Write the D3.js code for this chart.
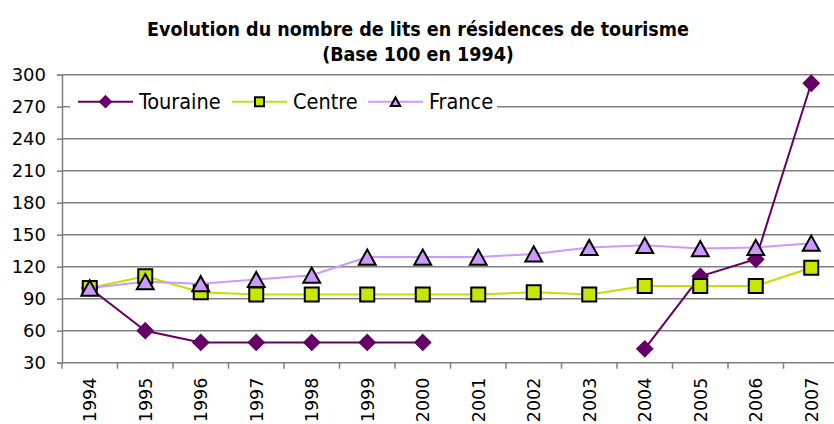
<!DOCTYPE html>
<html>
<head>
<meta charset="utf-8">
<script src="https://cdn.jsdelivr.net/npm/d3@7"></script>
<style>
  body { margin: 0; background: #fff; }
  svg text { font-family: "DejaVu Sans Condensed", "DejaVu Sans", sans-serif; fill: #000; }
</style>
</head>
<body>
<div id="chart"></div>
<script>
// data
var years = ["1994", "1995", "1996", "1997", "1998", "1999", "2000",
             "2001", "2002", "2003", "2004", "2005", "2006", "2007"];
var touraine = [100, 60, 49, 49, 49, 49, 49, null, null, null, 43, 111, 127, 292];
var centre   = [100, 111, 96, 94, 94, 94, 94, 94, 96, 94, 102, 102, 102, 119];
var france   = [100, 106, 104, 108, 112, 129, 129, 129, 132, 138, 140, 137, 138, 142];
var yTicks = [30, 60, 90, 120, 150, 180, 210, 240, 270, 300];
var seriesNames = ["Touraine", "Centre", "France"];

var width = 834, height = 424;
var margin = {top: 74.7, left: 62, bottom: 61.3};

var svg = d3.select("#chart").append("svg")
    .attr("width", width)
    .attr("height", height);

var x = d3.scaleBand().domain(years).range([margin.left, 839]).padding(0);
var y = d3.scaleLinear().domain([30, 300]).range([height - margin.bottom, margin.top]);

var series = [
    {name: seriesNames[0], values: touraine, line: "#660066", fill: "#660066", stroke: "#660066", shape: "diamond"},
    {name: seriesNames[1], values: centre, line: "#c4e000", fill: "#c8e600", stroke: "#000", shape: "square"},
    {name: seriesNames[2], values: france, line: "#cc99ff", fill: "#cc99ff", stroke: "#000", shape: "triangle"}
];

function markerPath(shape, s) {
    var h = s / 2;
    if (shape === "diamond") {
        return "M0," + (-h) + "L" + h + ",0L0," + h + "L" + (-h) + ",0Z";
    }
    if (shape === "square") {
        return "M" + (-h) + "," + (-h) + "h" + s + "v" + s + "h" + (-s) + "Z";
    }
    // triangle centred on its box
    return "M0," + (-h * 0.95) + "L" + (h * 1.05) + "," + (h * 0.95) + "L" + (-h * 1.05) + "," + (h * 0.95) + "Z";
}
var markerSize = {diamond: 15, square: 14, triangle: 16};

// title
svg.append("text")
    .attr("x", 418).attr("y", 36)
    .attr("text-anchor", "middle")
    .style("font-size", "19.5px").style("font-weight", "bold")
    .text("Evolution du nombre de lits en résidences de tourisme");
svg.append("text")
    .attr("x", 418).attr("y", 61)
    .attr("text-anchor", "middle")
    .style("font-size", "19.5px").style("font-weight", "bold")
    .text("(Base 100 en 1994)");

// gridlines
svg.append("g").selectAll("line")
    .data(yTicks.slice(1))
    .enter().append("line")
    .attr("x1", margin.left).attr("x2", width)
    .attr("y1", function(d) { return y(d); })
    .attr("y2", function(d) { return y(d); })
    .attr("stroke", "#808080").attr("stroke-width", 1.5);

// y axis
var yAxis = svg.append("g")
    .attr("transform", "translate(" + margin.left + ",0)")
    .call(d3.axisLeft(y).tickValues(yTicks).tickSize(5).tickPadding(11));
yAxis.select(".domain").attr("stroke", "#808080").attr("stroke-width", 1.5);
yAxis.selectAll(".tick line").attr("stroke", "#808080").attr("stroke-width", 1.5);
yAxis.selectAll(".tick text")
    .attr("font-family", null)
    .style("font-family", "'DejaVu Sans', sans-serif")
    .style("font-size", "18px");

// x axis (ticks on category boundaries)
var xg = svg.append("g");
xg.append("line")
    .attr("x1", margin.left).attr("x2", width)
    .attr("y1", y(30)).attr("y2", y(30))
    .attr("stroke", "#808080").attr("stroke-width", 1.5);
xg.selectAll(".xtick")
    .data(years)
    .enter().append("line")
    .attr("class", "xtick")
    .attr("x1", function(d) { return x(d); })
    .attr("x2", function(d) { return x(d); })
    .attr("y1", y(30)).attr("y2", y(30) + 6)
    .attr("stroke", "#808080").attr("stroke-width", 1.5);
xg.selectAll(".xlabel")
    .data(years)
    .enter().append("text")
    .attr("class", "xlabel")
    .attr("transform", function(d) {
        return "translate(" + (x(d) + x.bandwidth() / 2) + "," + (y(30) + 15) + ") rotate(-90)";
    })
    .attr("text-anchor", "end")
    .attr("dy", "0.36em")
    .style("font-family", "'DejaVu Sans', sans-serif")
    .style("font-size", "17.5px")
    .text(function(d) { return d; });

// lines
var line = d3.line()
    .defined(function(d) { return d != null; })
    .x(function(d, i) { return x(years[i]) + x.bandwidth() / 2; })
    .y(function(d) { return y(d); });

series.forEach(function(s) {
    svg.append("path")
        .datum(s.values)
        .attr("fill", "none")
        .attr("stroke", s.line)
        .attr("stroke-width", 2)
        .attr("d", line);
});

// markers
series.forEach(function(s) {
    svg.append("g").selectAll("path")
        .data(s.values.map(function(v, i) { return {v: v, year: years[i]}; })
            .filter(function(d) { return d.v != null; }))
        .enter().append("path")
        .attr("transform", function(d) {
            return "translate(" + (x(d.year) + x.bandwidth() / 2) + "," + y(d.v) + ")";
        })
        .attr("d", markerPath(s.shape, markerSize[s.shape]))
        .attr("fill", s.fill)
        .attr("stroke", s.stroke)
        .attr("stroke-width", 2);
});

// legend
var legend = svg.append("g");
legend.append("rect")
    .attr("x", 70).attr("y", 90).attr("width", 427).attr("height", 24)
    .attr("fill", "#fff");
var legendX = [78, 232, 368];
var legendY = 101.7;
series.forEach(function(s, i) {
    var lx = legendX[i];
    legend.append("line")
        .attr("x1", lx).attr("x2", lx + 55)
        .attr("y1", legendY).attr("y2", legendY)
        .attr("stroke", s.line).attr("stroke-width", 2);
    legend.append("path")
        .attr("transform", "translate(" + (lx + 27.5) + "," + legendY + ")")
        .attr("d", markerPath(s.shape, s.shape === "diamond" ? 11 : 9))
        .attr("fill", s.fill)
        .attr("stroke", s.stroke)
        .attr("stroke-width", 2);
    legend.append("text")
        .attr("x", lx + 61).attr("y", legendY)
        .attr("dy", "0.36em")
        .style("font-size", "21.5px")
        .text(s.name);
});
</script>
</body>
</html>
